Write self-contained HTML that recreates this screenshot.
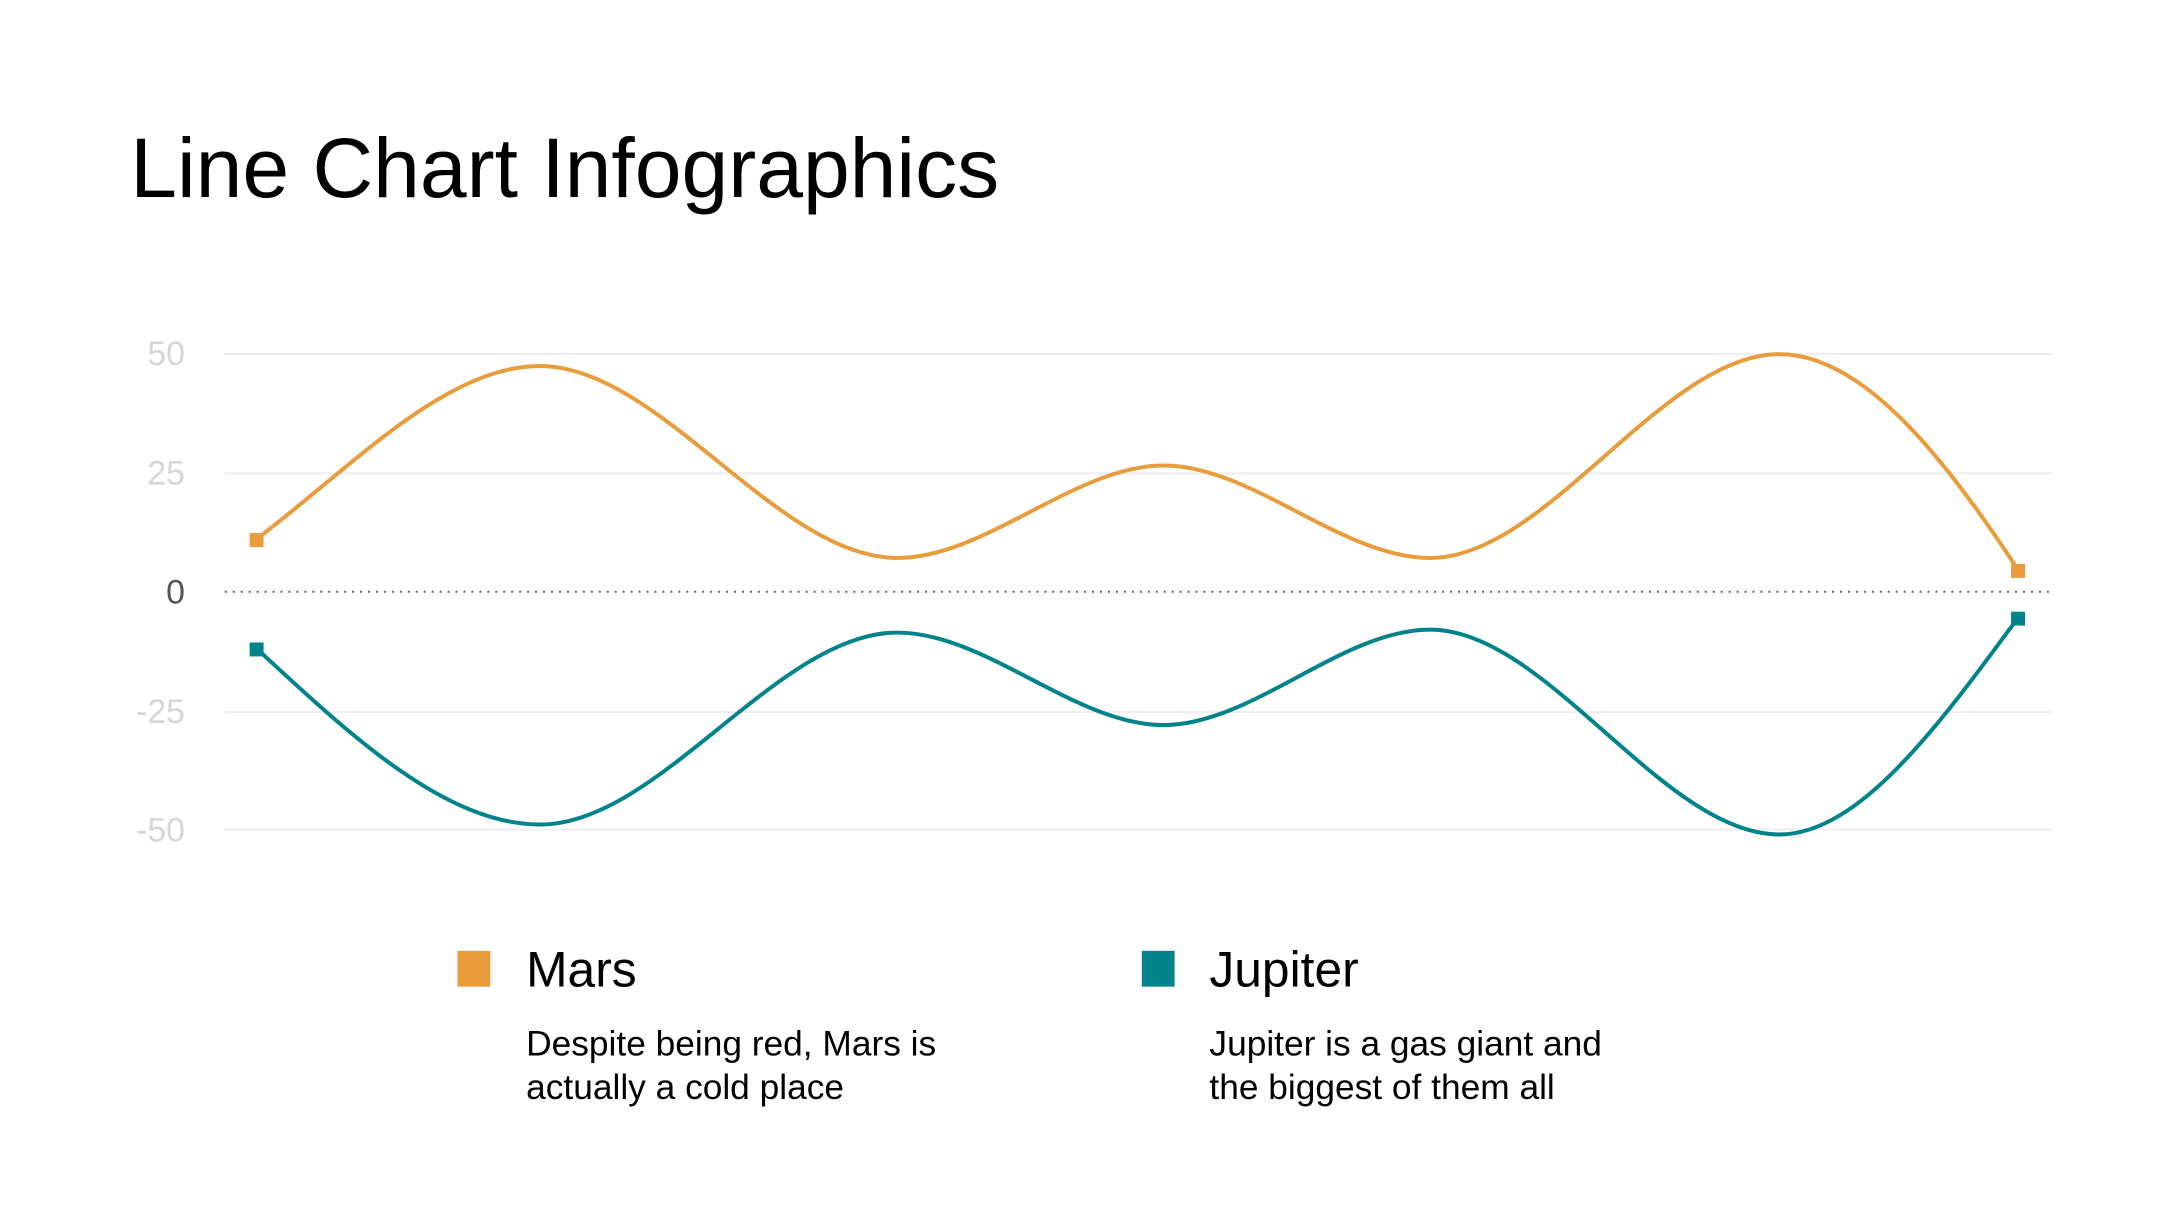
<!DOCTYPE html>
<html><head><meta charset="utf-8"><style>
body{margin:0;width:2160px;height:1215px;background:#fff;overflow:hidden;font-family:"Liberation Sans",sans-serif;}
</style></head><body>
<svg width="2160" height="1215" viewBox="0 0 2160 1215" xmlns="http://www.w3.org/2000/svg" style="position:absolute;left:0;top:0">
<g transform="scale(0.9946)">
<text x="131" y="198" font-size="84.5" fill="#000" font-family="Liberation Sans, sans-serif">Line Chart Infographics</text>
<g stroke="#eeeeee" stroke-width="2">
<line x1="226" y1="356" x2="2064" y2="356"/>
<line x1="226" y1="476" x2="2064" y2="476"/>
<line x1="226" y1="716" x2="2064" y2="716"/>
<line x1="226" y1="834" x2="2064" y2="834"/>
</g>
<line x1="226" y1="595" x2="2064" y2="595" stroke="#666" stroke-width="2" stroke-dasharray="2,6"/>
<g font-size="34" text-anchor="end" fill="#d6d6d6" font-family="Liberation Sans, sans-serif">
<text x="186" y="367">50</text>
<text x="186" y="487">25</text>
<text x="186" y="607" fill="#555">0</text>
<text x="186" y="727">-25</text>
<text x="186" y="846">-50</text>
</g>
<path d="M258,542 C353,470 448,368 543,368 C663,368 782,561 902,561 C991,561 1081,468 1170,468 C1259,468 1349,561 1438,561 C1555,561 1672,356 1789,356 C1869,356 1949,450 2029,573" fill="none" stroke="#E99C3B" stroke-width="4"/>
<path d="M258,652 C353,740 448,829 543,829 C663,829 782,636 902,636 C991,636 1081,729 1170,729 C1259,729 1349,633 1438,633 C1555,633 1672,839 1789,839 C1869,839 1949,730 2029,621" fill="none" stroke="#00838A" stroke-width="4"/>
<rect x="251" y="536" width="14" height="14" fill="#E99C3B"/>
<rect x="2022" y="567" width="14" height="14" fill="#E99C3B"/>
<rect x="251" y="646" width="14" height="14" fill="#00838A"/>
<rect x="2022" y="615" width="14" height="14" fill="#00838A"/>
<rect x="460" y="956" width="33" height="36" fill="#E99C3B"/>
<rect x="1148" y="956" width="33" height="36" fill="#00838A"/>
<g font-family="Liberation Sans, sans-serif" fill="#000">
<text x="529" y="992" font-size="50">Mars</text>
<text x="1216" y="992" font-size="50">Jupiter</text>
<text x="529" y="1061" font-size="35.5">Despite being red, Mars is</text>
<text x="529" y="1105" font-size="35.5">actually a cold place</text>
<text x="1216" y="1061" font-size="35.5">Jupiter is a gas giant and</text>
<text x="1216" y="1105" font-size="35.5">the biggest of them all</text>
</g>
</g>
</svg>
</body></html>
